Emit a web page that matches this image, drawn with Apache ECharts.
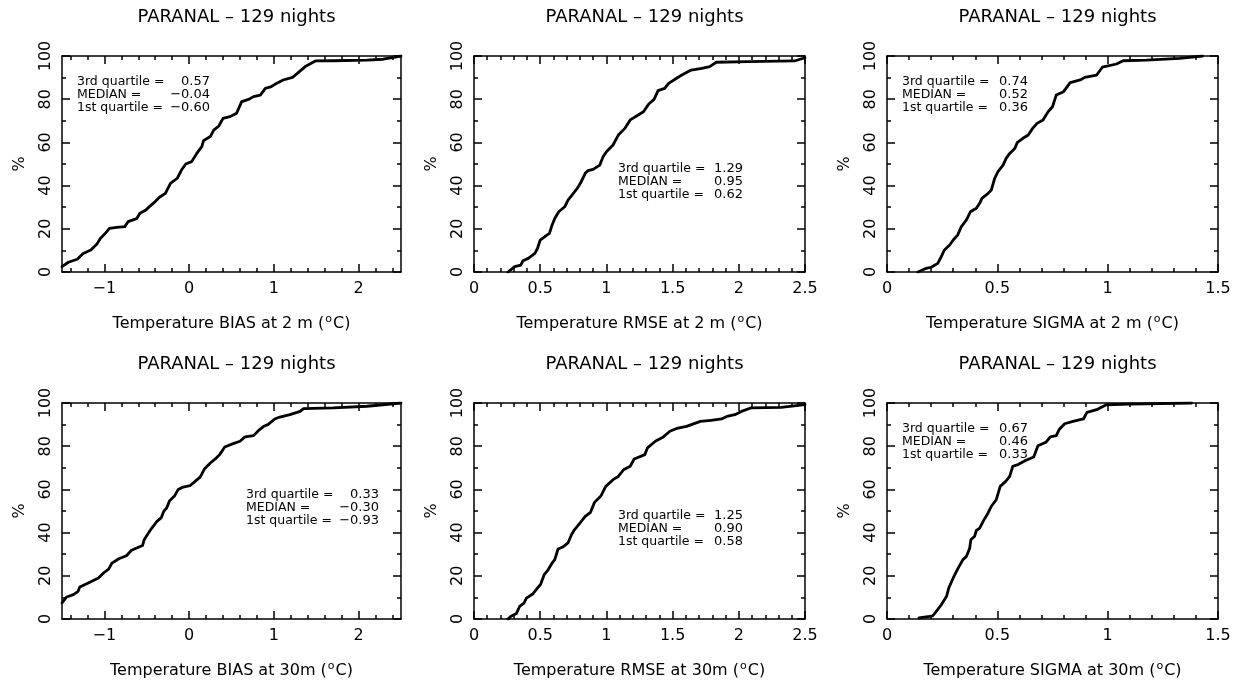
<!DOCTYPE html>
<html>
<head>
<meta charset="utf-8">
<script src="https://cdn.jsdelivr.net/npm/echarts@6/dist/echarts.min.js"></script>
<style>
  html, body { margin: 0; padding: 0; background: #fff; }
  #chart { width: 1241px; height: 686px; }
</style>
</head>
<body>
<div id="chart"></div>
<script>
// ---------- DATA ----------
const titleText = 'PARANAL \u2013 129 nights';

const bias2mX = [-1.5,-1.425,-1.32,-1.25,-1.16,-1.09,-1.05,-0.99,-0.94,-0.855,-0.76,-0.72,-0.62,-0.58,-0.51,-0.48,-0.40,-0.35,-0.28,-0.22,-0.14,-0.09,-0.04,0.03,0.09,0.15,0.17,0.25,0.29,0.35,0.40,0.48,0.56,0.62,0.70,0.76,0.84,0.90,0.97,1.03,1.11,1.22,1.27,1.37,1.49,1.70,2.10,2.29,2.5];
const bias2mY = [2.5,4.5,5.9,8.6,10.2,12.8,15.4,17.9,20.2,20.7,21.0,23.3,24.7,27.2,28.7,29.9,32.6,34.6,36.4,41.0,43.4,47.2,50.0,51.1,54.9,58.0,60.8,62.7,65.7,67.6,71.1,71.9,73.5,78.9,79.9,81.2,81.9,85.0,85.8,87.3,88.9,90.1,91.7,95.1,97.7,97.8,98.1,98.5,100];

const rmse2mX = [0.257,0.307,0.353,0.37,0.41,0.46,0.48,0.50,0.55,0.57,0.59,0.61,0.64,0.685,0.71,0.74,0.78,0.81,0.84,0.86,0.90,0.95,0.975,1.00,1.05,1.09,1.14,1.18,1.24,1.28,1.32,1.36,1.39,1.44,1.47,1.53,1.57,1.64,1.72,1.78,1.83,2.07,2.42,2.5];
const rmse2mY = [0,2.5,3.2,5.2,6.3,8.6,11.0,14.8,17.1,17.9,21.8,24.8,27.9,30.2,33.3,35.6,38.7,41.8,45.7,46.9,47.5,49.5,53.4,55.7,58.8,63.4,66.5,70.4,72.7,74.2,77.8,79.9,84.0,85.0,87.3,89.7,91.2,93.5,94.3,95.1,97.1,97.4,97.7,99.2];

const sigma2mX = [0.14,0.178,0.20,0.23,0.246,0.26,0.284,0.30,0.32,0.337,0.36,0.378,0.405,0.42,0.43,0.458,0.473,0.488,0.503,0.526,0.54,0.556,0.58,0.59,0.616,0.64,0.66,0.68,0.707,0.73,0.75,0.767,0.80,0.83,0.876,0.896,0.95,0.976,1.04,1.07,1.175,1.326,1.43];
const sigma2mY = [0,1.7,2.2,4.0,7.1,10.2,12.5,14.8,17.1,21.0,24.1,27.9,29.5,31.8,34.1,36.4,38.0,43.4,46.5,49.5,52.6,54.9,57.3,59.9,61.9,63.4,66.5,68.8,70.4,74.2,76.5,81.9,83.5,87.7,88.9,90.1,91.2,94.8,96.3,97.8,98.1,98.9,100];

const bias30mX = [-1.5,-1.445,-1.366,-1.31,-1.29,-1.19,-1.07,-1.01,-0.95,-0.91,-0.83,-0.74,-0.68,-0.55,-0.53,-0.48,-0.44,-0.38,-0.33,-0.30,-0.265,-0.23,-0.17,-0.13,-0.07,0.01,0.07,0.13,0.18,0.25,0.32,0.36,0.42,0.52,0.60,0.66,0.76,0.82,0.88,0.93,1.01,1.07,1.19,1.31,1.35,1.70,2.10,2.5];
const bias30mY = [7.4,10.2,11.3,12.8,14.8,16.7,19.0,21.3,23.1,25.9,27.9,29.3,31.8,34.0,36.7,39.8,42.1,45.2,46.8,49.8,51.4,54.8,57.1,59.9,61.1,61.7,63.7,65.7,69.4,72.2,74.5,76.1,79.6,81.2,82.3,84.3,84.9,87.3,89.2,90.0,92.6,93.5,94.6,96.1,97.4,97.7,98.5,100];

const rmse30mX = [0.257,0.277,0.32,0.345,0.378,0.396,0.446,0.47,0.504,0.53,0.56,0.59,0.61,0.635,0.67,0.71,0.736,0.76,0.80,0.84,0.88,0.91,0.96,0.995,1.05,1.09,1.13,1.18,1.21,1.29,1.31,1.37,1.43,1.48,1.54,1.605,1.71,1.79,1.87,1.91,1.97,2.02,2.09,2.32,2.5];
const rmse30mY = [0,1.2,2.5,5.9,7.4,9.7,11.7,13.6,16.2,20.5,22.8,25.9,27.5,32.4,33.3,35.2,39.0,41.4,44.4,47.5,49.4,54.0,57.1,61.4,64.5,66.0,69.1,70.7,74.1,76.1,79.2,82.3,84.3,86.9,88.4,89.2,91.5,92.0,92.6,93.8,94.6,96.1,97.7,98.0,99.2];

const sigma30mX = [0.145,0.193,0.208,0.227,0.246,0.27,0.28,0.30,0.32,0.344,0.36,0.375,0.38,0.397,0.405,0.42,0.44,0.458,0.473,0.495,0.513,0.538,0.556,0.57,0.594,0.63,0.665,0.684,0.72,0.74,0.767,0.78,0.805,0.843,0.89,0.906,0.95,0.994,1.10,1.38];
const sigma30mY = [0.5,1.2,1.5,4.0,6.6,10.5,14.4,19.0,23.1,27.5,29.0,32.9,36.7,38.3,41.0,42.1,46.0,49.1,52.2,55.2,61.4,63.7,66.0,70.7,71.5,73.5,75.0,80.2,81.8,84.3,84.9,87.7,90.4,91.5,92.6,95.7,96.9,99.2,99.5,100];

const q3Values  = [0.57, 1.29, 0.74, 0.33, 1.25, 0.67];
const medValues = [-0.04, 0.95, 0.52, -0.30, 0.90, 0.46];
const q1Values  = [-0.60, 0.62, 0.36, -0.93, 0.58, 0.33];

const biasTickLabels  = [-1, 0, 1, 2];
const rmseTickLabels  = [0, 0.5, 1, 1.5, 2, 2.5];
const sigmaTickLabels = [0, 0.5, 1, 1.5];
const pctTickLabels   = [0, 20, 40, 60, 80, 100];

const xNames = ['Temperature BIAS at 2 m', 'Temperature RMSE at 2 m', 'Temperature SIGMA at 2 m',
                'Temperature BIAS at 30m', 'Temperature RMSE at 30m', 'Temperature SIGMA at 30m'];

// ---------- LAYOUT ----------
const FONT = '"DejaVu Sans", "Liberation Sans", sans-serif';
const colL = [{left: 62, width: 339}, {left: 474, width: 331}, {left: 887, width: 331}];
const rowT = [{top: 56, height: 216, titleTop: 3}, {top: 403, height: 216, titleTop: 350}];

const panels = [
  {x: bias2mX,  y: bias2mY,  min: -1.5, max: 2.5, ticks: biasTickLabels,  minor: 0.2, col: 0, row: 0, note: [77, 82, 210]},
  {x: rmse2mX,  y: rmse2mY,  min: 0,    max: 2.5, ticks: rmseTickLabels,  minor: 0.1, col: 1, row: 0, note: [618, 169, 743]},
  {x: sigma2mX, y: sigma2mY, min: 0,    max: 1.5, ticks: sigmaTickLabels, minor: 0.1, col: 2, row: 0, note: [902, 82, 1028]},
  {x: bias30mX, y: bias30mY, min: -1.5, max: 2.5, ticks: biasTickLabels,  minor: 0.2, col: 0, row: 1, note: [246, 495, 379]},
  {x: rmse30mX, y: rmse30mY, min: 0,    max: 2.5, ticks: rmseTickLabels,  minor: 0.1, col: 1, row: 1, note: [618, 516, 743]},
  {x: sigma30mX,y: sigma30mY,min: 0,    max: 1.5, ticks: sigmaTickLabels, minor: 0.1, col: 2, row: 1, note: [902, 429, 1028]}
];

function steps(min, max, step) {
  const out = [];
  const start = Math.ceil(min / step - 1e-9);
  const end = Math.floor(max / step + 1e-9);
  for (let k = start; k <= end; k++) out.push(+(k * step).toFixed(6));
  return out;
}
function fmt(v) { return String(v).replace('-', '\u2212'); }
function fmtQ(v) { return v.toFixed(2).replace('-', '\u2212'); }

const line = {color: '#000', width: 1.5};
const grids = [], xAxes = [], yAxes = [], series = [], titles = [], graphics = [];

panels.forEach((p, i) => {
  const c = colL[p.col], r = rowT[p.row];
  grids.push({left: c.left, top: r.top, width: c.width, height: r.height, containLabel: false});
  titles.push({
    text: titleText, left: c.left + c.width / 2, top: r.titleTop, textAlign: 'center',
    textStyle: {fontSize: 18, fontWeight: 'normal', fontFamily: FONT, color: '#000'}
  });
  const xi = xAxes.length, yi = yAxes.length;
  const minorX = steps(p.min, p.max, p.minor).filter(v => p.ticks.indexOf(v) < 0);
  const minorY = steps(0, 100, 10).filter(v => pctTickLabels.indexOf(v) < 0);
  const base = {gridIndex: i, type: 'value', splitLine: {show: false}};
  const xb = Object.assign({}, base, {min: p.min, max: p.max});
  const yb = Object.assign({}, base, {min: 0, max: 100});
  // main bottom x axis (labels + major ticks)
  xAxes.push(Object.assign({}, xb, {
    position: 'bottom',
    axisLine: {show: true, onZero: false, lineStyle: line},
    axisTick: {show: true, inside: true, length: 8, lineStyle: line, customValues: p.ticks},
    axisLabel: {show: true, customValues: p.ticks, formatter: fmt, fontSize: 16, fontFamily: FONT, color: '#000', margin: 9},
    name: '{a|' + xNames[i] + ' (}{s|o}{a|C)}', nameLocation: 'middle', nameGap: 42,
    nameTextStyle: {rich: {a: {fontSize: 16, fontFamily: FONT, color: '#000', lineHeight: 20},
                           s: {fontSize: 11, fontFamily: FONT, color: '#000', verticalAlign: 'top', lineHeight: 20, padding: [0, 1, 6, 1]}}}
  }));
  xAxes.push(Object.assign({}, xb, {position: 'bottom', axisLine: {show: false, onZero: false},
    axisTick: {show: true, inside: true, length: 4, lineStyle: line, customValues: minorX}, axisLabel: {show: false}}));
  xAxes.push(Object.assign({}, xb, {position: 'top', axisLine: {show: true, onZero: false, lineStyle: line},
    axisTick: {show: true, inside: true, length: 8, lineStyle: line, customValues: p.ticks}, axisLabel: {show: false}}));
  xAxes.push(Object.assign({}, xb, {position: 'top', axisLine: {show: false, onZero: false},
    axisTick: {show: true, inside: true, length: 4, lineStyle: line, customValues: minorX}, axisLabel: {show: false}}));
  // y axes
  yAxes.push(Object.assign({}, yb, {
    position: 'left',
    axisLine: {show: true, onZero: false, lineStyle: line},
    axisTick: {show: true, inside: true, length: 8, lineStyle: line, customValues: pctTickLabels},
    axisLabel: {show: true, customValues: pctTickLabels, rotate: 90, fontSize: 16, fontFamily: FONT, color: '#000', margin: 8},
    name: '%', nameLocation: 'middle', nameGap: 34, nameRotate: 90,
    nameTextStyle: {fontSize: 16, fontFamily: FONT, color: '#000'}
  }));
  yAxes.push(Object.assign({}, yb, {position: 'left', axisLine: {show: false, onZero: false},
    axisTick: {show: true, inside: true, length: 4, lineStyle: line, customValues: minorY}, axisLabel: {show: false}}));
  yAxes.push(Object.assign({}, yb, {position: 'right', axisLine: {show: true, onZero: false, lineStyle: line},
    axisTick: {show: true, inside: true, length: 8, lineStyle: line, customValues: pctTickLabels}, axisLabel: {show: false}}));
  yAxes.push(Object.assign({}, yb, {position: 'right', axisLine: {show: false, onZero: false},
    axisTick: {show: true, inside: true, length: 4, lineStyle: line, customValues: minorY}, axisLabel: {show: false}}));

  const n = Math.min(p.x.length, p.y.length);
  const data = [];
  for (let k = 0; k < n; k++) data.push([p.x[k], p.y[k]]);
  series.push({
    type: 'line', xAxisIndex: xi, yAxisIndex: yi, data: data,
    showSymbol: false, symbol: 'none', smooth: false,
    lineStyle: {color: '#000', width: 2.8, join: 'round', cap: 'round'},
    animation: false, silent: true
  });

  // quartile annotation block
  const [nx, ny, nr] = p.note;
  const rows = [['3rd quartile =', fmtQ(q3Values[i])], ['MEDIAN =', fmtQ(medValues[i])], ['1st quartile =', fmtQ(q1Values[i])]];
  rows.forEach((rw, j) => {
    const yy = ny + j * 13;
    graphics.push({type: 'text', x: nx, y: yy, silent: true,
      style: {text: rw[0], fill: '#000', fontSize: 12.5, fontFamily: FONT, align: 'left', verticalAlign: 'middle'}});
    graphics.push({type: 'text', x: nr, y: yy, silent: true,
      style: {text: rw[1], fill: '#000', fontSize: 13, fontFamily: FONT, align: 'right', verticalAlign: 'middle'}});
  });
});

const chart = echarts.init(document.getElementById('chart'), null, {renderer: 'canvas'});
chart.setOption({
  backgroundColor: '#fff',
  animation: false,
  title: titles,
  grid: grids,
  xAxis: xAxes,
  yAxis: yAxes,
  series: series,
  graphic: graphics
});
</script>
</body>
</html>
